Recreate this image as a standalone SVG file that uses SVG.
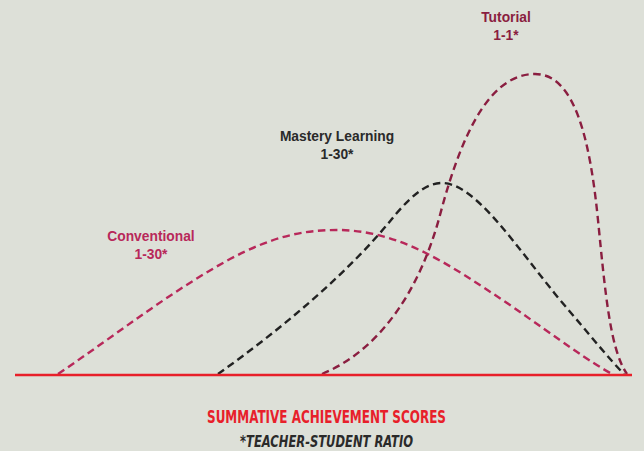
<svg xmlns="http://www.w3.org/2000/svg" width="644" height="451" viewBox="0 0 644 451">
<style>
.lbl{font-family:"Liberation Sans",Arial,sans-serif;font-weight:bold;font-size:13.8px;text-anchor:middle}
.curve{fill:none;stroke-width:2.4;stroke-dasharray:7.5 4.5}
.conv{stroke:#b8285a}
.mast{stroke:#222222}
.tut{stroke:#8a1e40}
</style>
<rect width="644" height="451" fill="#dde0d8"/>
<g id="connectors">
<path class="curve conv" d="M58,374 C120,332 170,292 230,259 C270,238 300,230 337,230 C400,230 450,265 510,305 C560,340 590,362 612,374"/>
<path class="curve mast" d="M218,374 C280,330 350,272 395,215 C415,192 428,183 442,183 C475,183 515,245 560,300 C590,335 610,360 624,374"/>
<path class="curve tut" d="M322,374 C380,350 420,290 440,215 C465,120 495,74 535,74 C575,74 590,140 598,220 C605,290 610,350 627,374"/>
</g>
<g id="axis">
<line x1="15" y1="375" x2="632" y2="375" stroke="#e8202a" stroke-width="2.4"/>
</g>
<g id="tutorial">
<text class="lbl" x="506" y="22" fill="#8a1e40">Tutorial</text>
<text class="lbl" x="506" y="40" fill="#8a1e40">1-1*</text>
</g>
<g id="mastery">
<text class="lbl" x="337" y="141" fill="#2a2a2a">Mastery Learning</text>
<text class="lbl" x="337" y="159" fill="#2a2a2a">1-30*</text>
</g>
<g id="conventional">
<text class="lbl" x="151" y="241" fill="#b8285a">Conventional</text>
<text class="lbl" x="151" y="259" fill="#b8285a">1-30*</text>
</g>
<g id="footer">
<text x="326.5" y="423" font-family="'DejaVu Sans Condensed','DejaVu Sans',sans-serif" font-weight="bold" font-size="17.5" fill="#e8202a" text-anchor="middle" textLength="239" lengthAdjust="spacingAndGlyphs">SUMMATIVE ACHIEVEMENT SCORES</text>
<text x="326.5" y="447" font-family="'DejaVu Sans Condensed','DejaVu Sans',sans-serif" font-weight="bold" font-style="italic" font-size="15.5" fill="#2a2a2a" text-anchor="middle" textLength="173" lengthAdjust="spacingAndGlyphs">*TEACHER-STUDENT RATIO</text>
</g>
</svg>
